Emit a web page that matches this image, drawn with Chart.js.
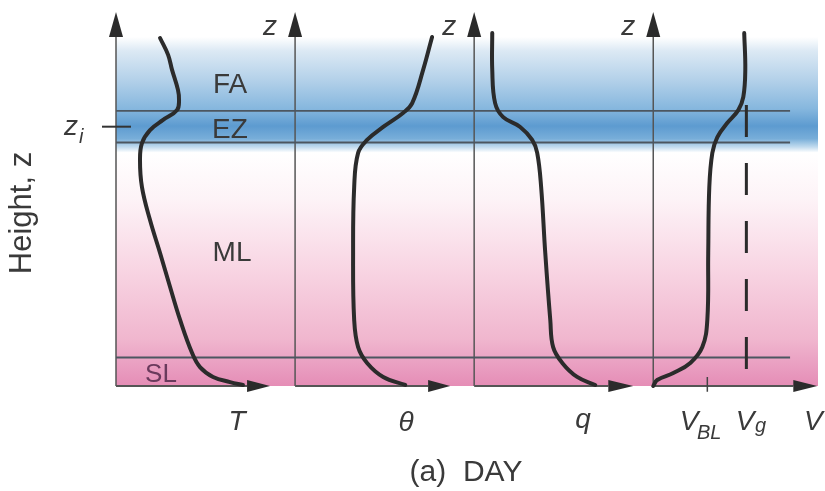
<!DOCTYPE html>
<html>
<head>
<meta charset="utf-8">
<script src="https://cdn.jsdelivr.net/npm/chart.js@4.4.0/dist/chart.umd.min.js"></script>
<style>
  html, body { margin: 0; background: #fff; }
  #wrap { width: 825px; height: 491px; }
</style>
</head>
<body>
<div id="wrap"><canvas id="profiles"></canvas></div>
<script>
// Heights are in units of z / zi, profile values in panel widths (0..1)
const panelVars = ['T', 'θ', 'q', 'V'];

const tempZ   = [1.342, 1.277, 1.219, 1.142, 1.103, 1.064, 1.026, 0.987, 0.937, 0.872, 0.767, 0.640, 0.513, 0.382, 0.255, 0.127, 0.073, 0.035, 0.015, 0.004];
const tempVal = [0.246, 0.291, 0.313, 0.346, 0.352, 0.341, 0.263, 0.190, 0.145, 0.134, 0.145, 0.190, 0.246, 0.302, 0.358, 0.425, 0.469, 0.542, 0.637, 0.709];

const thetaZ   = [1.346, 1.219, 1.091, 1.053, 0.999, 0.949, 0.899, 0.767, 0.513, 0.255, 0.150, 0.089, 0.035, 0.004];
const thetaVal = [0.765, 0.715, 0.654, 0.603, 0.492, 0.402, 0.352, 0.330, 0.324, 0.330, 0.352, 0.402, 0.492, 0.615];

const humZ   = [1.361, 1.219, 1.091, 1.037, 0.999, 0.949, 0.899, 0.767, 0.513, 0.255, 0.150, 0.089, 0.035, 0.004];
const humVal = [0.101, 0.101, 0.117, 0.162, 0.257, 0.324, 0.352, 0.374, 0.397, 0.425, 0.441, 0.492, 0.575, 0.676];

const windZ   = [1.361, 1.219, 1.115, 1.064, 1.014, 0.960, 0.899, 0.767, 0.513, 0.255, 0.150, 0.089, 0.050, 0.023, 0.0];
const windVal = [0.508, 0.514, 0.503, 0.475, 0.413, 0.358, 0.330, 0.313, 0.307, 0.302, 0.274, 0.207, 0.112, 0.022, 0.0];

const geoWind = 0.520;      // Vg
const blWind = 0.302;       // VBL
const geoWindTop = 1.084;

const layerLines = [1.061, 0.939, 0.110];   // top of EZ, bottom of EZ, top of SL
const blueTop = 1.346, blueBottom = 0.90;
const axisTop = 1.346, arrowTip = 1.442;
const xArrowBase = [0.732, 0.743, 0.749, 0.782];
const xArrowTip  = [0.860, 0.866, 0.888, 0.916];

function profile(zs, vals, panel) {
    return zs.map((z, i) => ({ x: panel + vals[i], y: z }));
}

const curveStyle = {
    showLine: true, pointRadius: 0, borderColor: '#2b2b2b', borderWidth: 4,
    tension: 0.4, fill: false, order: 0, clip: false, borderCapStyle: 'round'
};
const thinStyle = {
    showLine: true, pointRadius: 0, borderColor: '#4c5660', borderWidth: 1.8,
    tension: 0, fill: false, order: 2, clip: false
};

const datasets = [
    { ...curveStyle, data: profile(tempZ, tempVal, 0) },
    { ...curveStyle, data: profile(thetaZ, thetaVal, 1) },
    { ...curveStyle, data: profile(humZ, humVal, 2) },
    { ...curveStyle, data: profile(windZ, windVal, 3) },
    { ...thinStyle, borderColor: '#2b2b2b', borderWidth: 3, order: 1, borderDash: [32, 26],
      data: [{ x: 3 + geoWind, y: geoWindTop }, { x: 3 + geoWind, y: 0 }] },
    { ...thinStyle, borderColor: '#444', borderWidth: 1.5,
      data: [{ x: 3 + blWind, y: 0.035 }, { x: 3 + blWind, y: -0.022 }] }
];
layerLines.forEach(z => {
    datasets.push({ ...thinStyle, data: [{ x: 0, y: z }, { x: 3.764, y: z }] });
});
panelVars.forEach((v, p) => {
    datasets.push({ ...thinStyle, borderColor: '#555', borderWidth: 1.5, data: [{ x: p, y: 0 }, { x: p, y: axisTop }] });
    datasets.push({ ...thinStyle, borderColor: '#555', borderWidth: 2, data: [{ x: p, y: 0 }, { x: p + xArrowBase[p], y: 0 }] });
});

const bands = {
    id: 'bands',
    beforeDatasetsDraw(chart) {
        const { ctx, chartArea: a, scales: { x, y } } = chart;
        const l = x.getPixelForValue(0), r = a.right;
        const bt = y.getPixelForValue(blueTop), bb = y.getPixelForValue(blueBottom), b0 = y.getPixelForValue(0);
        ctx.save();
        let g = ctx.createLinearGradient(0, bt, 0, bb);
        g.addColorStop(0.00, '#ffffff');
        g.addColorStop(0.12, '#dce9f4');
        g.addColorStop(0.38, '#b2d0e9');
        g.addColorStop(0.62, '#86b7de');
        g.addColorStop(0.77, '#5d9bd0');
        g.addColorStop(0.88, '#78aed9');
        g.addColorStop(0.95, '#c0daee');
        g.addColorStop(1.00, '#ffffff');
        ctx.fillStyle = g;
        ctx.fillRect(l, bt, r - l, bb - bt);
        g = ctx.createLinearGradient(0, bb, 0, b0);
        g.addColorStop(0.00, '#ffffff');
        g.addColorStop(0.20, '#fdf3f7');
        g.addColorStop(0.50, '#f8d5e3');
        g.addColorStop(0.80, '#f0b6ce');
        g.addColorStop(0.88, '#eba5c5');
        g.addColorStop(1.00, '#e58db6');
        ctx.fillStyle = g;
        ctx.fillRect(l, bb, r - l, b0 - bb);
        ctx.restore();
    },
    afterDatasetsDraw(chart) {
        const { ctx, scales: { x, y } } = chart;
        ctx.save();
        ctx.fillStyle = '#2b2b2b';
        panelVars.forEach((v, p) => {
            const px = x.getPixelForValue(p);
            const base = y.getPixelForValue(axisTop), tip = y.getPixelForValue(arrowTip);
            ctx.beginPath();
            ctx.moveTo(px, tip); ctx.lineTo(px - 7, base); ctx.lineTo(px + 7, base); ctx.closePath();
            ctx.fill();
            const y0 = y.getPixelForValue(0);
            const xb = x.getPixelForValue(p + xArrowBase[p]), xt = x.getPixelForValue(p + xArrowTip[p]);
            ctx.beginPath();
            ctx.moveTo(xt, y0); ctx.lineTo(xb, y0 - 6); ctx.lineTo(xb, y0 + 6); ctx.closePath();
            ctx.fill();
        });

        ctx.fillStyle = '#3a3a3a';
        ctx.textAlign = 'center';
        ctx.textBaseline = 'alphabetic';
        ctx.font = '28px "Liberation Sans", Arial, sans-serif';
        ctx.fillText('FA', 230, 93);
        ctx.fillText('EZ', 230, 138);
        ctx.fillText('ML', 232, 261);
        ctx.fillStyle = '#6a3a5c';
        ctx.font = '26px "Liberation Sans", Arial, sans-serif';
        ctx.fillText('SL', 161, 382);

        ctx.fillStyle = '#3a3a3a';
        ctx.font = 'italic 28px "Liberation Sans", Arial, sans-serif';
        [1, 2, 3].forEach(p => ctx.fillText('z', x.getPixelForValue(p) - 25, 35));

        // z_i marker
        ctx.textAlign = 'left';
        ctx.fillText('z', 64, 135);
        ctx.font = 'italic 20px "Liberation Sans", Arial, sans-serif';
        ctx.fillText('i', 79, 143);
        const yi = y.getPixelForValue(1);
        ctx.strokeStyle = '#333';
        ctx.lineWidth = 2;
        ctx.beginPath(); ctx.moveTo(102, yi); ctx.lineTo(131, yi); ctx.stroke();

        // bottom variable names
        ctx.textAlign = 'center';
        ctx.font = 'italic 28px "Liberation Sans", Arial, sans-serif';
        ctx.fillText('T', 237, 430);
        ctx.fillText('θ', 406, 431);
        ctx.fillText('q', 583, 428);
        ctx.fillText('V', 689, 430);
        ctx.fillText('V', 745, 430);
        ctx.textAlign = 'left';
        ctx.fillText('V', 804, 430);
        ctx.font = 'italic 20px "Liberation Sans", Arial, sans-serif';
        ctx.fillText('BL', 697, 439);
        ctx.fillText('g', 755, 432);

        ctx.textAlign = 'center';
        ctx.font = '30px "Liberation Sans", Arial, sans-serif';
        ctx.fillText('(a)  DAY', 466, 481);

        ctx.translate(22, 213);
        ctx.rotate(-Math.PI / 2);
        ctx.textBaseline = 'middle';
        ctx.font = '31px "Liberation Sans", Arial, sans-serif';
        ctx.fillText('Height, z', 0, 0);
        ctx.restore();
    }
};

new Chart(document.getElementById('profiles'), {
    type: 'scatter',
    data: { datasets },
    options: {
        responsive: true,
        maintainAspectRatio: false,
        animation: false,
        events: [],
        layout: { padding: { left: 116, right: 7, top: 10, bottom: 105 } },
        plugins: { legend: { display: false }, tooltip: { enabled: false } },
        scales: {
            x: { type: 'linear', min: 0, max: 3.92, display: false },
            y: { type: 'linear', min: 0, max: 1.45, display: false }
        }
    },
    plugins: [bands]
});
</script>
</body>
</html>
